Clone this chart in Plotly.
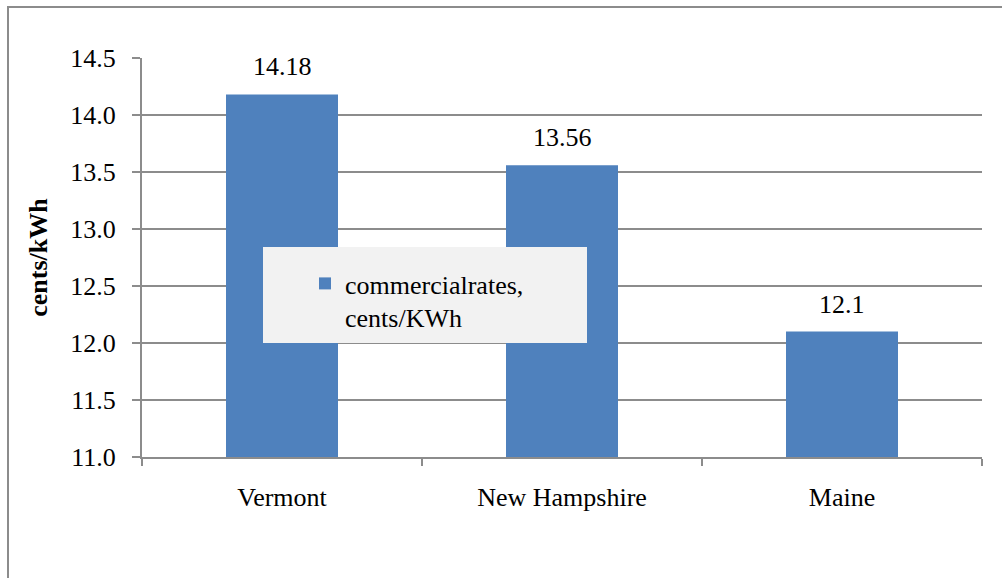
import plotly.graph_objects as go

states = ["Vermont", "New Hampshire", "Maine"]
rates = [14.18, 13.56, 12.1]
rate_labels = ["14.18", "13.56", "12.1"]
series_name = "commercialrates,<br>cents/KWh"

FONT = "'Liberation Serif', 'Times New Roman', 'DejaVu Serif', serif"
GRAY = "#8C8C8C"
FS = 26

L, R, T, B = 142, 20, 58, 121
W, H = 1002, 578
pw, ph = W - L - R, H - T - B

def px(x):
    return (x - L) / pw

def py(y):
    return (H - B - y) / ph

fig = go.Figure()
fig.add_trace(go.Bar(
    x=states, y=rates, name=series_name,
    marker=dict(color="#4F81BD", line=dict(width=0)),
    showlegend=True,
))

for s, v, t in zip(states, rates, rate_labels):
    fig.add_annotation(x=s, y=v, text=t, showarrow=False, yanchor="bottom",
                       yshift=11, font=dict(family=FONT, size=FS, color="black"))

# legend background box
fig.add_shape(type="rect", xref="paper", yref="paper",
              x0=px(263), x1=px(587), y0=py(343), y1=py(247),
              fillcolor="#F2F2F2", line=dict(width=0), layer="above")
# chart border
fig.add_shape(type="rect", xref="paper", yref="paper",
              x0=px(8), x1=px(1010), y0=py(590), y1=py(7),
              fillcolor="rgba(0,0,0,0)", line=dict(color=GRAY, width=2), layer="below")

fig.update_layout(
    width=W, height=H,
    margin=dict(l=L, r=R, t=T, b=B),
    paper_bgcolor="white", plot_bgcolor="white",
    bargap=0.6,
    font=dict(family=FONT, size=FS, color="black"),
    legend=dict(x=px(305), y=py(260), xanchor="left", yanchor="top",
                bgcolor="rgba(0,0,0,0)", valign="top",
                font=dict(family=FONT, size=FS, color="black")),
    xaxis=dict(
        showgrid=False, showline=True, linecolor=GRAY, linewidth=2,
        ticks="outside", tickson="boundaries", ticklen=7, tickcolor=GRAY, tickwidth=2,
        ticklabelstandoff=16,
    ),
    yaxis=dict(
        range=[11, 14.5], dtick=0.5, tickformat=".1f",
        showgrid=True, gridcolor=GRAY, gridwidth=1.5,
        showline=True, linecolor=GRAY, linewidth=2,
        ticks="outside", ticklen=8, tickcolor=GRAY, tickwidth=2,
        ticklabelstandoff=11, zeroline=False,
        title=dict(text="<b>cents/kWh</b>", standoff=15,
                   font=dict(family=FONT, size=FS, color="black")),
    ),
)

fig.write_html("out.html")
